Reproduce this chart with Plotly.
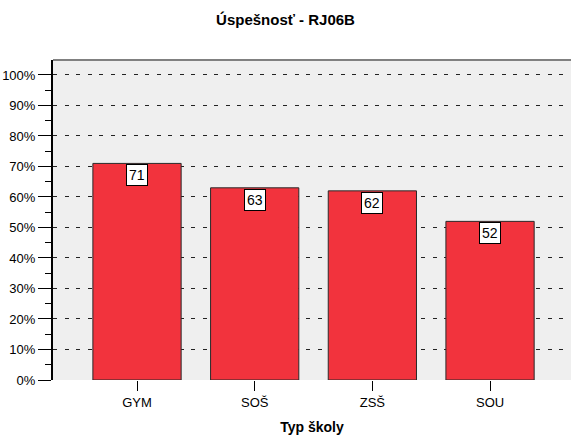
import plotly.graph_objects as go

categories = ["GYM", "SOŠ", "ZSŠ", "SOU"]
values = [71, 63, 62, 52]
y_tick_vals = [0, 10, 20, 30, 40, 50, 60, 70, 80, 90, 100]
y_tick_text = [f"{v}%" for v in y_tick_vals]

fig = go.Figure()
fig.add_trace(go.Bar(
    x=list(range(len(categories))),
    y=values,
    width=0.75,
    marker=dict(color="#F2333D", line=dict(color="#2a2a2a", width=1)),
    hoverinfo="skip",
))

for i, v in enumerate(values):
    fig.add_annotation(
        x=i, y=v, xref="x", yref="y", text=str(v),
        showarrow=False, yanchor="top", yshift=-1,
        bgcolor="white", bordercolor="black", borderwidth=1, borderpad=2,
        font=dict(family="Liberation Sans, Arial", size=14, color="black"),
    )

fig.add_shape(type="line", xref="paper", yref="paper", x0=0, x1=1, y0=1, y1=1,
              line=dict(color="#808080", width=2))

fig.update_layout(
    width=571, height=435,
    margin=dict(l=53, r=0, t=60, b=55, autoexpand=False),
    paper_bgcolor="white",
    plot_bgcolor="#EFEFEF",
    showlegend=False,
    font=dict(family="Liberation Sans, Arial", size=13, color="black"),
    title=dict(text="<b>Úspešnosť - RJ06B</b>", x=0.5, xanchor="center",
               y=1 - 20 / 435, yanchor="middle",
               font=dict(size=15, family="Liberation Sans, Arial")),
    xaxis=dict(
        range=[-0.714, 3.688], automargin=False,
        tickmode="array", tickvals=list(range(len(categories))), ticktext=categories,
        ticks="outside", ticklen=10, tickcolor="black", tickwidth=1,
        showgrid=False, zeroline=False, showline=False,
        title=dict(text="<b>Typ školy</b>", font=dict(size=14)),
        tickfont=dict(size=13),
    ),
    yaxis=dict(
        range=[0, 104.9], automargin=False,
        tickmode="array", tickvals=y_tick_vals, ticktext=y_tick_text,
        ticks="outside", ticklen=13, tickcolor="black", tickwidth=1,
        minor=dict(tickvals=[5, 15, 25, 35, 45, 55, 65, 75, 85, 95, 105],
                   ticks="outside", ticklen=6, tickcolor="black", showgrid=False),
        showgrid=True, gridcolor="#222222", gridwidth=1, griddash="4px,7.5px",
        zeroline=False, showline=True, linecolor="black", linewidth=2,
        tickfont=dict(size=13),
    ),
)

fig.write_html("out.html", config={"displayModeBar": False},
               post_script="document.body.style.margin='0';document.body.style.overflow='hidden';")
